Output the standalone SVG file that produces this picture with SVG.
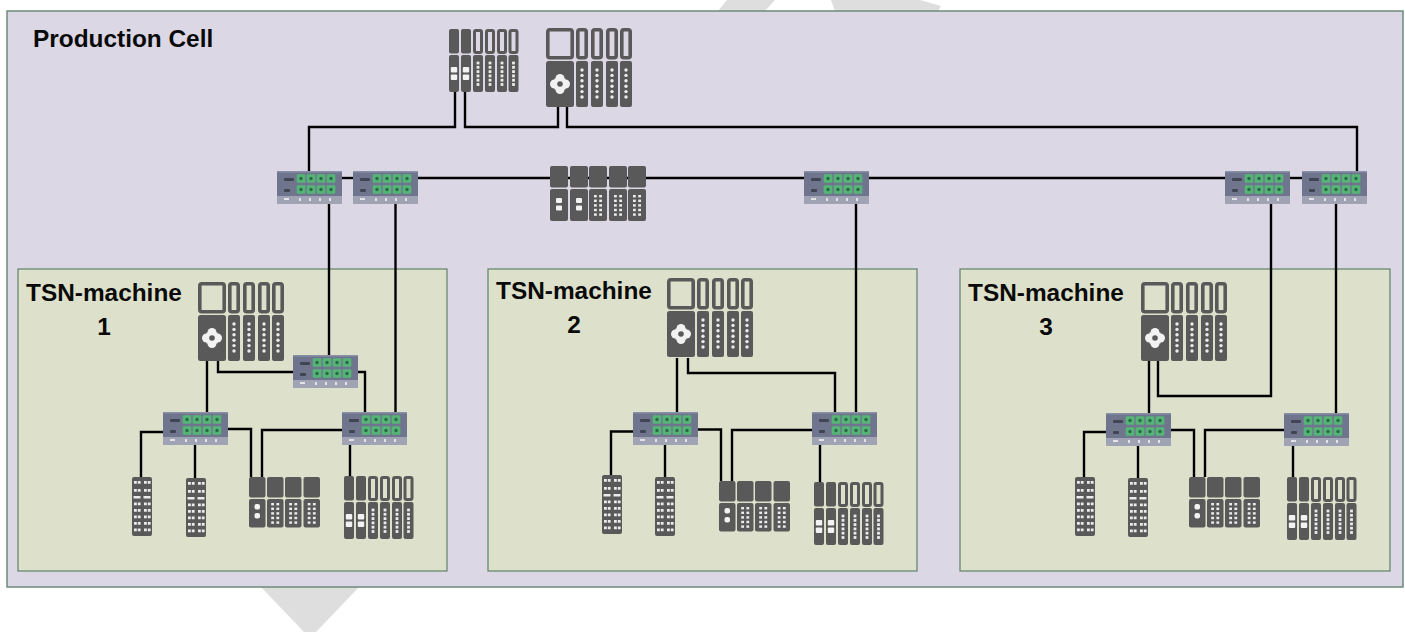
<svg xmlns="http://www.w3.org/2000/svg" width="1405" height="632" viewBox="0 0 1405 632">
<style>
.cell{fill:#dcd7e5;stroke:#6c8a78;stroke-width:1.5}
.mach{fill:#dde1cb;stroke:#5f8068;stroke-width:1.2}
.wm{fill:#dedede}
.lbl{font-family:"Liberation Sans",Arial,sans-serif;font-weight:700;font-size:24.4px;fill:#0a0a0a}
.wire{fill:none;stroke:#000;stroke-width:2.4;stroke-linejoin:miter}
.m{fill:#595959}
.h{fill:none;stroke:#595959}
.d{fill:#ececec}
.w{fill:#f2f2f2}
.sb{fill:#6f758e}
.sl{fill:#a0a3b4}
.sd{fill:#3f4453}
.sp{fill:#55b577}
.sc{fill:#2c6a45}
.st{fill:#e2e2e8}
</style>
<defs>
<filter id="soft" x="-5%" y="-5%" width="110%" height="110%"><feGaussianBlur stdDeviation="0.5"/></filter>
<g id="dots6" class="d"><circle cx="0" cy="0" r="1.7"/><circle cx="0" cy="5.4" r="1.7"/><circle cx="0" cy="10.8" r="1.7"/><circle cx="0" cy="16.2" r="1.7"/><circle cx="0" cy="21.6" r="1.7"/><circle cx="0" cy="27" r="1.7"/></g>
<g id="dots6s" class="d"><rect x="-1.4" y="-1.4" width="2.8" height="2.8"/><rect x="-1.4" y="2.900" width="2.8" height="2.8"/><rect x="-1.4" y="7.2" width="2.8" height="2.8"/><rect x="-1.4" y="11.5" width="2.8" height="2.8"/><rect x="-1.4" y="15.8" width="2.8" height="2.8"/><rect x="-1.4" y="20.1" width="2.8" height="2.8"/></g>
<g id="grid" class="d"><rect x="-4" y="0" width="2.8" height="2.4"/><rect x="1.2" y="0" width="2.8" height="2.4"/><rect x="-4" y="4.6" width="2.8" height="2.4"/><rect x="1.2" y="4.6" width="2.8" height="2.4"/><rect x="-4" y="9.2" width="2.8" height="2.4"/><rect x="1.2" y="9.2" width="2.8" height="2.4"/><rect x="-4" y="13.8" width="2.8" height="2.4"/><rect x="1.2" y="13.8" width="2.8" height="2.4"/><rect x="-4" y="18.4" width="2.8" height="2.4"/><rect x="1.2" y="18.4" width="2.8" height="2.4"/></g>
<g id="narrowCpu"><rect class="h" x="1.8" y="1.8" width="8.4" height="28" rx="2" stroke-width="3.6"/><rect class="m" x="0" y="33" width="12" height="46" rx="2"/><use href="#dots6" x="6" y="42"/></g>
<g id="cpu">
<rect class="h" x="1.8" y="1.8" width="24.4" height="28" rx="2" stroke-width="3.6"/>
<rect class="m" x="0" y="33" width="28" height="46" rx="2.5"/>
<g class="w"><circle cx="14" cy="50.500" r="4.500"/><circle cx="14" cy="61.500" r="4.500"/><circle cx="8.500" cy="56" r="4.500"/><circle cx="19.500" cy="56" r="4.500"/><rect x="8.500" y="50.500" width="11" height="11"/></g>
<circle class="m" cx="14" cy="56" r="2.800"/>
<use href="#narrowCpu" x="30"/><use href="#narrowCpu" x="45"/><use href="#narrowCpu" x="60"/><use href="#narrowCpu" x="74"/>
</g>
<g id="r1"><rect class="m" x="0" y="0" width="10" height="24.500" rx="2"/><rect class="m" x="0" y="26" width="10" height="37" rx="2"/><rect class="w" x="1.800" y="38" width="6.400" height="5.500" rx="1"/><rect class="w" x="1.800" y="45.500" width="6.400" height="5.500" rx="1"/></g>
<g id="r2"><rect class="h" x="1.500" y="1.500" width="7" height="22" rx="1.500" stroke-width="3"/><rect class="m" x="0" y="26" width="10" height="37" rx="2"/><use href="#dots6s" x="5" y="34"/></g>
<g id="rack"><use href="#r1" x="0"/><use href="#r1" x="12"/><use href="#r2" x="24"/><use href="#r2" x="36"/><use href="#r2" x="48"/><use href="#r2" x="59.500"/></g>
<g id="c1"><rect class="m" x="0" y="0" width="18" height="21.500" rx="2"/><rect class="m" x="0" y="23" width="18" height="32" rx="2"/><rect class="w" x="6" y="32" width="6" height="5" rx="1"/><rect class="w" x="6" y="39.500" width="6" height="5" rx="1"/></g>
<g id="c2"><rect class="m" x="0" y="0" width="18" height="21.500" rx="2"/><rect class="m" x="0" y="23" width="18" height="32" rx="2"/><use href="#grid" x="9" y="29"/></g>
<g id="five"><use href="#c1" x="0"/><use href="#c1" x="20"/><use href="#c2" x="39"/><use href="#c2" x="59"/><use href="#c2" x="78"/></g>
<g id="f1"><rect class="m" x="0" y="0" width="16.500" height="20.500" rx="2"/><rect class="m" x="0" y="22" width="16.500" height="28.500" rx="2"/><rect class="w" x="5.500" y="27" width="5.500" height="5.500" rx="2"/><rect class="w" x="5.500" y="36" width="5.500" height="5.500" rx="2"/></g>
<g id="f2"><rect class="m" x="0" y="0" width="16.500" height="20.500" rx="2"/><rect class="m" x="0" y="22" width="16.500" height="28.500" rx="2"/><use href="#grid" x="8.200" y="26"/></g>
<g id="four"><use href="#f1" x="0"/><use href="#f2" x="18"/><use href="#f2" x="36"/><use href="#f2" x="54.500"/></g>
<g id="io"><rect class="m" x="0" y="0" width="20" height="59" rx="2"/>
<g class="d">
<path d="M2 4h2.800v2.800h-2.800zM5.800 4h2.800v2.800h-2.800zM12 4h2.800v2.800h-2.800zM15.800 4h2.800v2.800h-2.800zM2 12h2.800v2.800h-2.800zM5.800 12h2.800v2.800h-2.800zM12 12h2.800v2.800h-2.800zM15.800 12h2.800v2.800h-2.800zM1.500 19h7v2.500h-7zM11.500 19h7v2.500h-7zM2 25.500h2.800v2.800h-2.800zM5.800 25.500h2.800v2.800h-2.800zM12 25.500h2.800v2.800h-2.800zM15.800 25.500h2.800v2.800h-2.800zM2 32h2.800v2.800h-2.800zM5.800 32h2.800v2.800h-2.800zM12 32h2.800v2.800h-2.800zM15.800 32h2.800v2.800h-2.800zM2 38.500h2.800v2.800h-2.800zM5.800 38.500h2.800v2.800h-2.800zM12 38.500h2.800v2.800h-2.800zM15.800 38.500h2.800v2.800h-2.800zM2 45h2.800v2.800h-2.800zM5.800 45h2.800v2.800h-2.800zM12 45h2.800v2.800h-2.800zM15.800 45h2.800v2.800h-2.800zM2 51.500h2.800v2.800h-2.800zM5.800 51.500h2.800v2.800h-2.800zM12 51.500h2.800v2.800h-2.800zM15.800 51.500h2.800v2.800h-2.800z"/>
</g></g>
<g id="port"><rect class="sp" x="-4.300" y="-4.300" width="8.600" height="8.600" rx="1.200"/><circle class="sc" r="1.700"/></g>
<g id="sw" filter="url(#soft)"><rect class="sb" x="0" y="0" width="65" height="33"/><rect x="0" y="0" width="65" height="1.500" fill="#8a90a6"/><rect class="sl" x="0" y="25" width="65" height="8"/>
<rect class="sd" x="7" y="7" width="10" height="3" rx="1"/><rect class="sd" x="7" y="18" width="6" height="3" rx="1"/>
<use href="#port" x="24" y="7.500"/><use href="#port" x="34" y="7.500"/><use href="#port" x="44" y="7.500"/><use href="#port" x="54" y="7.500"/>
<use href="#port" x="24" y="18.500"/><use href="#port" x="34" y="18.500"/><use href="#port" x="44" y="18.500"/><use href="#port" x="54" y="18.500"/>
<path class="st" d="M7 27h5v2h-5zM22 27h2v3h-2zM32 27h2v3h-2zM42 27h2v3h-2zM52 27h2v3h-2z"/></g>
</defs>

<g id="watermark">
<polygon class="wm" points="718,11 727,0 775,0 765,11"/>
<polygon class="wm" points="835,11 831,0 920,0 941,6 938,11"/>
<polygon class="wm" points="261,587 359,587 316,632 304,632"/>
</g>

<g id="production-cell"><rect class="cell" x="7" y="11" width="1396" height="576"/><text class="lbl" x="33" y="47">Production Cell</text></g>
<g id="machine-1"><rect class="mach" x="18" y="269" width="429" height="302"/><text class="lbl" x="26" y="301">TSN-machine</text><text class="lbl" x="104" y="335" text-anchor="middle">1</text></g>
<g id="machine-2"><rect class="mach" x="488" y="269" width="429" height="302"/><text class="lbl" x="496" y="299">TSN-machine</text><text class="lbl" x="574" y="333" text-anchor="middle">2</text></g>
<g id="machine-3"><rect class="mach" x="960" y="269" width="430" height="302"/><text class="lbl" x="968" y="301">TSN-machine</text><text class="lbl" x="1046" y="335" text-anchor="middle">3</text></g>

<g id="connectors" class="wire">
<path d="M455 92V127H309V171"/>
<path d="M465 92V127H558V107"/>
<path d="M567 107V127H1357V171"/>
<path d="M342 178H353"/>
<path d="M418 178H804"/>
<path d="M868 178H1225"/>
<path d="M1290 178H1302"/>
<path d="M329 204V355"/>
<path d="M395.500 204V412"/>
<path d="M856 204V412"/>
<path d="M1271 204V396H1158V361"/>
<path d="M1336 204V413"/>
<path d="M207 361V412"/>
<path d="M218 361V372H293"/>
<path d="M358 372H365V412"/>
<path d="M163 432H141V477"/>
<path d="M195 445V478"/>
<path d="M228 429H251V477"/>
<path d="M342 430H262V477"/>
<path d="M350 445V476"/>
<path d="M677 358V412"/>
<path d="M688 358V373H835V412"/>
<path d="M633 431.500H611V475"/>
<path d="M665 445V477"/>
<path d="M698 429.500H721V481"/>
<path d="M812 430H732V481"/>
<path d="M820 445V482"/>
<path d="M1149 361V413"/>
<path d="M1106 432H1084V477"/>
<path d="M1138 446V478"/>
<path d="M1171 430H1194V477"/>
<path d="M1284 430H1205V477"/>
<path d="M1293 446V477"/>
</g>

<g id="cell-rack"><use href="#rack" x="449" y="29"/></g>
<g id="cell-cpu"><use href="#cpu" x="546" y="28"/></g>
<g id="cell-io"><use href="#five" x="550" y="166"/></g>
<g id="cell-sw-1"><use href="#sw" x="277" y="171"/></g>
<g id="cell-sw-2"><use href="#sw" x="353" y="171"/></g>
<g id="cell-sw-3"><use href="#sw" x="804" y="171"/></g>
<g id="cell-sw-4"><use href="#sw" x="1225" y="171"/></g>
<g id="cell-sw-5"><use href="#sw" x="1302" y="171"/></g>

<g id="m1-cpu"><use href="#cpu" x="198" y="282"/></g>
<g id="m1-sw-top"><use href="#sw" x="293" y="355"/></g>
<g id="m1-sw-left"><use href="#sw" x="163" y="412"/></g>
<g id="m1-sw-right"><use href="#sw" x="342" y="412"/></g>
<g id="m1-io-1"><use href="#io" x="132" y="477"/></g>
<g id="m1-io-2"><use href="#io" x="186" y="478"/></g>
<g id="m1-four"><use href="#four" x="249" y="477"/></g>
<g id="m1-rack"><use href="#rack" x="344" y="476"/></g>

<g id="m2-cpu"><use href="#cpu" x="667" y="278"/></g>
<g id="m2-sw-left"><use href="#sw" x="633" y="412"/></g>
<g id="m2-sw-right"><use href="#sw" x="812" y="412"/></g>
<g id="m2-io-1"><use href="#io" x="602" y="475"/></g>
<g id="m2-io-2"><use href="#io" x="655" y="477"/></g>
<g id="m2-four"><use href="#four" x="719" y="481"/></g>
<g id="m2-rack"><use href="#rack" x="814" y="482"/></g>

<g id="m3-cpu"><use href="#cpu" x="1141" y="282"/></g>
<g id="m3-sw-left"><use href="#sw" x="1106" y="413"/></g>
<g id="m3-sw-right"><use href="#sw" x="1284" y="413"/></g>
<g id="m3-io-1"><use href="#io" x="1075" y="477"/></g>
<g id="m3-io-2"><use href="#io" x="1128" y="478"/></g>
<g id="m3-four"><use href="#four" x="1189" y="477"/></g>
<g id="m3-rack"><use href="#rack" x="1287" y="477"/></g>
</svg>
